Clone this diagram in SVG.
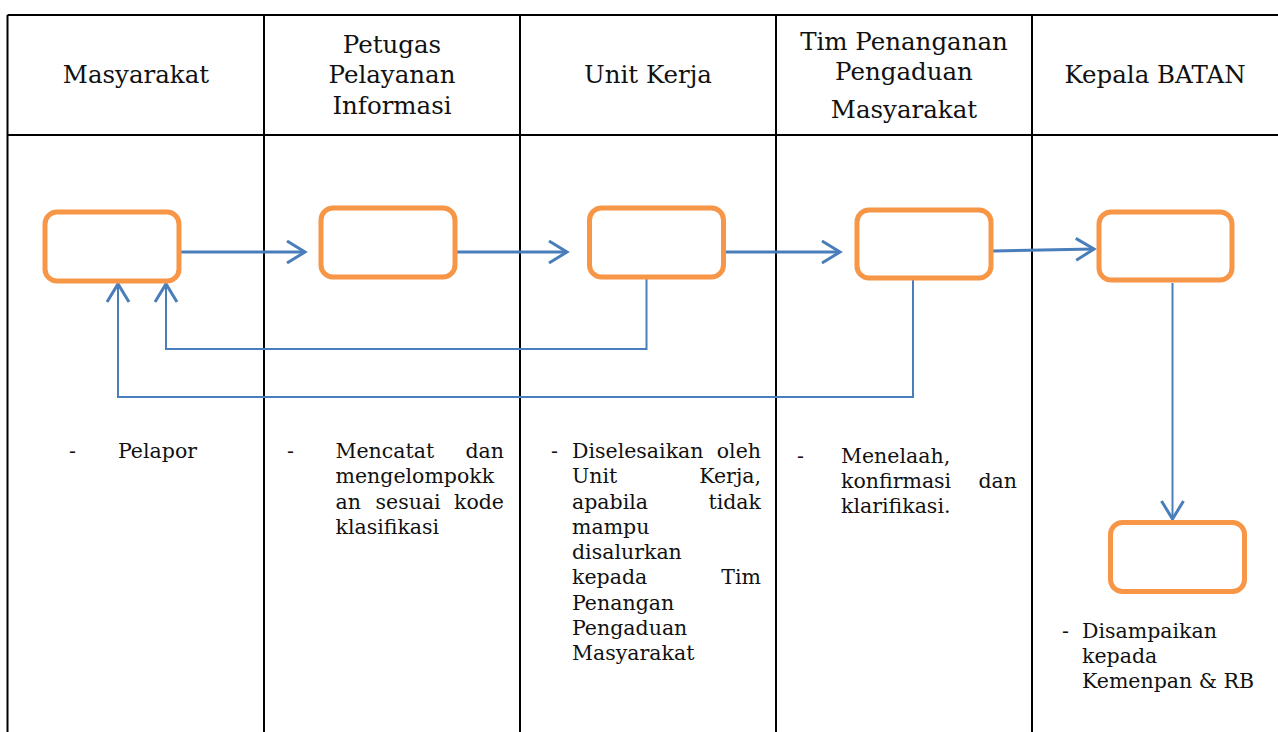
<svg xmlns="http://www.w3.org/2000/svg" width="1278" height="732" viewBox="0 0 1278 732">
<style>
.grid{stroke:#000;stroke-width:2;fill:none}
.hdr{font-family:"DejaVu Serif","Liberation Serif",serif;font-size:24.5px;fill:#111;text-anchor:middle}
.txt{font-family:"DejaVu Serif","Liberation Serif",serif;font-size:20.5px;fill:#111}
.end{text-anchor:end}
.box{fill:#fff;stroke:#F79646;stroke-width:5}
.fwd{fill:none;stroke:#4A7EBB;stroke-width:3}
.back{fill:none;stroke:#4A7EBB;stroke-width:2}
</style>
<defs>
<marker id="chev" markerUnits="userSpaceOnUse" markerWidth="40" markerHeight="40" viewBox="-30 -20 40 40" refX="0" refY="0" orient="auto" overflow="visible">
<path d="M-18,-11 L0,0 L-18,11" fill="none" stroke="#4A7EBB" stroke-width="3"/>
</marker>
</defs>
<rect width="1278" height="732" fill="#fff"/>
<g id="table">
<path class="grid" d="M7.5,15 H1278 M7.5,15 V732 M7.5,135 H1278 M264,15 V732 M520,15 V732 M776,15 V732 M1032,15 V732"/>
</g>
<g id="headers">
<text class="hdr" x="136" y="83">Masyarakat</text>
<text class="hdr" x="392" y="53">Petugas</text>
<text class="hdr" x="392" y="83">Pelayanan</text>
<text class="hdr" x="392" y="114">Informasi</text>
<text class="hdr" x="648" y="83">Unit Kerja</text>
<text class="hdr" x="904" y="50">Tim Penanganan</text>
<text class="hdr" x="904" y="80">Pengaduan</text>
<text class="hdr" x="904" y="118">Masyarakat</text>
<text class="hdr" x="1155" y="83">Kepala BATAN</text>
</g>
<g id="connectors">
<path class="fwd" d="M180,252 H305" marker-end="url(#chev)"/>
<path class="fwd" d="M456,252 H567" marker-end="url(#chev)"/>
<path class="fwd" d="M724,252 H840" marker-end="url(#chev)"/>
<path class="fwd" d="M993,251 L1094,249" marker-end="url(#chev)"/>
<path class="back" d="M646.5,279 V349 H166 V284" marker-end="url(#chev)"/>
<path class="back" d="M913,280 V397 H118 V284" marker-end="url(#chev)"/>
<path class="back" d="M1172.5,283 V519" marker-end="url(#chev)"/>
</g>
<g id="node-masyarakat">
<rect class="box" x="45" y="212" width="134" height="69" rx="12"/>
<text class="txt" x="69" y="458">-</text>
<text class="txt" x="118" y="458">Pelapor</text>
</g>
<g id="node-petugas">
<rect class="box" x="321" y="208" width="134" height="69" rx="12"/>
<text class="txt" x="287" y="458">-</text>
<text class="txt" x="335.5" y="458">Mencatat</text>
<text class="txt end" x="504" y="458">dan</text>
<text class="txt" x="335.5" y="483">mengelompokk</text>
<text class="txt" x="335.5" y="508.5">an</text>
<text class="txt" x="375.5" y="508.5">sesuai</text>
<text class="txt end" x="504" y="508.5">kode</text>
<text class="txt" x="335.5" y="534">klasifikasi</text>
</g>
<g id="node-unit-kerja">
<rect class="box" x="589.5" y="208" width="134" height="69" rx="12"/>
<text class="txt" x="551" y="458">-</text>
<text class="txt" x="572" y="458">Diselesaikan</text>
<text class="txt end" x="761" y="458">oleh</text>
<text class="txt" x="572" y="483">Unit</text>
<text class="txt end" x="761" y="483">Kerja,</text>
<text class="txt" x="572" y="508.5">apabila</text>
<text class="txt end" x="761" y="508.5">tidak</text>
<text class="txt" x="572" y="534">mampu</text>
<text class="txt" x="572" y="559">disalurkan</text>
<text class="txt" x="572" y="584">kepada</text>
<text class="txt end" x="761" y="584">Tim</text>
<text class="txt" x="572" y="609.5">Penangan</text>
<text class="txt" x="572" y="635">Pengaduan</text>
<text class="txt" x="572" y="660">Masyarakat</text>
</g>
<g id="node-tim">
<rect class="box" x="857" y="210" width="134" height="68" rx="12"/>
<text class="txt" x="797" y="463">-</text>
<text class="txt" x="841" y="463">Menelaah,</text>
<text class="txt" x="841" y="488">konfirmasi</text>
<text class="txt end" x="1017" y="488">dan</text>
<text class="txt" x="841" y="513">klarifikasi.</text>
</g>
<g id="node-kepala">
<rect class="box" x="1099" y="212" width="133" height="68" rx="12"/>
</g>
<g id="node-kemenpan">
<rect class="box" x="1110.5" y="522.5" width="134" height="69" rx="12"/>
<text class="txt" x="1062" y="638">-</text>
<text class="txt" x="1082" y="638">Disampaikan</text>
<text class="txt" x="1082" y="663">kepada</text>
<text class="txt" x="1082" y="688">Kemenpan &amp; RB</text>
</g>
</svg>
